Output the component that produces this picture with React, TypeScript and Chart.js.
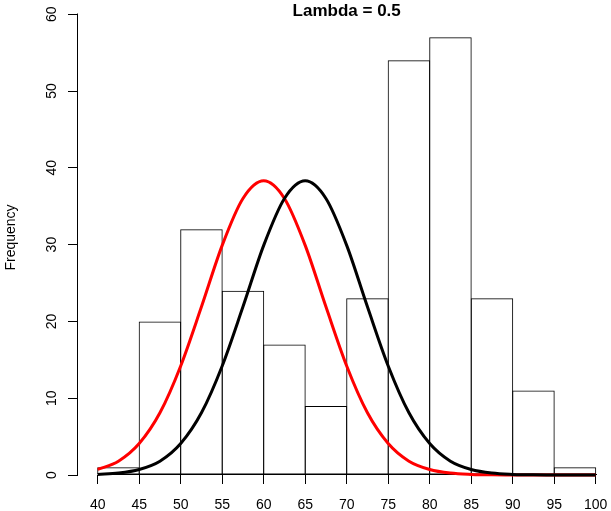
import React, { useEffect, useRef } from "react";
import { Chart, registerables } from "chart.js";

Chart.register(...registerables);

// Histogram bins (5 wide) and counts
const binCenters = [42.5, 47.5, 52.5, 57.5, 62.5, 67.5, 72.5, 77.5, 82.5, 87.5, 92.5, 97.5];
const binCounts = [1, 20, 32, 24, 17, 9, 23, 54, 57, 23, 11, 1];

// Density curves
const curveX = [40, 42.5, 45, 47.5, 50, 52.5, 55, 57.5, 60, 62.5, 65, 67.5, 70, 72.5, 75, 77.5, 80, 82.5, 85, 87.5, 90, 92.5, 95, 97.5, 100];
const redCurve = [0.72, 1.8, 4.1, 8.1, 14.2, 21.9, 29.9, 36.0, 38.3, 36.0, 29.9, 21.9, 14.2, 8.1, 4.1, 1.8, 0.72, 0.25, 0.08, 0.02, 0.01, 0, 0, 0, 0];
const blackCurve = [0.08, 0.25, 0.72, 1.8, 4.1, 8.1, 14.2, 21.9, 29.9, 36.0, 38.3, 36.0, 29.9, 21.9, 14.2, 8.1, 4.1, 1.8, 0.72, 0.25, 0.08, 0.02, 0.01, 0, 0];

const xTicks = [40, 45, 50, 55, 60, 65, 70, 75, 80, 85, 90, 95, 100];
const yTicks = [0, 10, 20, 30, 40, 50, 60];

const titleText = "Lambda = 0.5";
const yTitleText = "Frequency";

const FONT = "'Liberation Sans', Arial, Helvetica, sans-serif";

export default function App() {
  const ref = useRef<HTMLCanvasElement>(null);

  useEffect(() => {
    if (!ref.current) return;

    const rAxes = {
      id: "rAxes",
      beforeDatasetsDraw(chart: any) {
        const { ctx, scales } = chart;
        const x = scales.x;
        const y = scales.y;
        ctx.save();
        ctx.strokeStyle = "#000";
        ctx.lineWidth = 1;
        const yx = Math.round(y.right) - 0.5;
        ctx.beginPath();
        ctx.moveTo(yx, Math.round(y.getPixelForValue(yTicks[0])) + 0.5);
        ctx.lineTo(yx, Math.round(y.getPixelForValue(yTicks[yTicks.length - 1])) - 0.5);
        ctx.stroke();
        const xy = Math.round(y.getPixelForValue(0)) - 0.5;
        ctx.beginPath();
        ctx.moveTo(Math.round(x.getPixelForValue(xTicks[0])), xy);
        ctx.lineTo(Math.round(x.getPixelForValue(xTicks[xTicks.length - 1])) + 1, xy);
        ctx.stroke();
        ctx.restore();
      },
      afterDraw(chart: any) {
        const { ctx, scales } = chart;
        const x = scales.x;
        ctx.save();
        ctx.fillStyle = "#000";
        ctx.font = `bold 17px ${FONT}`;
        ctx.textAlign = "center";
        ctx.textBaseline = "middle";
        const mid = (xTicks[0] + xTicks[xTicks.length - 1]) / 2;
        ctx.fillText(titleText, x.getPixelForValue(mid), 11.5);
        ctx.restore();
      },
    };

    const chart = new Chart(ref.current, {
      type: "bar",
      data: {
        datasets: [
          {
            type: "line",
            label: "black",
            data: curveX.map((v, i) => ({ x: v, y: blackCurve[i] })),
            borderColor: "#000000",
            borderWidth: 3,
            pointRadius: 0,
            fill: false,
            cubicInterpolationMode: "monotone",
            clip: false,
            order: 1,
          } as any,
          {
            type: "line",
            label: "red",
            data: curveX.map((v, i) => ({ x: v, y: redCurve[i] })),
            borderColor: "#ff0000",
            borderWidth: 3,
            pointRadius: 0,
            fill: false,
            cubicInterpolationMode: "monotone",
            clip: false,
            order: 2,
          } as any,
          {
            type: "bar",
            label: "hist",
            data: binCenters.map((v, i) => ({ x: v, y: binCounts[i] })),
            backgroundColor: "rgba(0,0,0,0)",
            borderColor: "#000000",
            borderWidth: 1,
            borderSkipped: false,
            inflateAmount: 0,
            barPercentage: 42.5 / 41.5,
            categoryPercentage: 1,
            order: 3,
          } as any,
        ],
      },
      options: {
        animation: false,
        responsive: false,
        devicePixelRatio: 1,
        events: [],
        layout: { padding: { left: 0, top: 0, right: 6, bottom: 0 } },
        plugins: {
          legend: { display: false },
          tooltip: { enabled: false },
          title: { display: false },
        },
        scales: {
          x: {
            type: "linear",
            position: "bottom",
            offset: false,
            min: 37.627,
            max: 101.12,
            afterBuildTicks: (scale: any) => {
              scale.ticks = xTicks.map((v) => ({ value: v }));
            },
            afterFit: (scale: any) => {
              scale.height = 36;
              scale.paddingLeft = 0;
              scale.paddingRight = 0;
              scale.paddingTop = 0;
              scale.paddingBottom = 0;
            },
            border: { display: false },
            grid: {
              offset: false,
              drawOnChartArea: false,
              drawTicks: true,
              tickLength: 9,
              color: "#000",
              lineWidth: 1,
            },
            ticks: {
              autoSkip: false,
              maxRotation: 0,
              minRotation: 0,
              padding: 13,
              color: "#000",
              font: { family: FONT, size: 14 },
              callback: (v: any) => String(v),
            },
          },
          y: {
            type: "linear",
            position: "left",
            min: 0,
            max: 61.85,
            afterBuildTicks: (scale: any) => {
              scale.ticks = yTicks.map((v) => ({ value: v }));
            },
            afterFit: (scale: any) => {
              scale.width = 78;
              scale.paddingLeft = 0;
              scale.paddingRight = 0;
              scale.paddingTop = 0;
              scale.paddingBottom = 0;
            },
            border: { display: false },
            grid: {
              offset: false,
              drawOnChartArea: false,
              drawTicks: true,
              tickLength: 10,
              color: "#000",
              lineWidth: 1,
            },
            ticks: {
              autoSkip: false,
              minRotation: 90,
              maxRotation: 90,
              crossAlign: "center",
              padding: 8,
              color: "#000",
              font: { family: FONT, size: 14 },
              callback: (v: any) => String(v),
            },
            title: {
              display: true,
              text: yTitleText,
              color: "#000",
              font: { family: FONT, size: 14 },
              padding: { top: 3, bottom: 0 },
            },
          },
        },
      } as any,
      plugins: [rAxes],
    });

    return () => chart.destroy();
  }, []);

  return (
    <div style={{ position: "fixed", left: 0, top: 0, width: 611, height: 511, background: "#fff" }}>
      <canvas ref={ref} width={611} height={511} style={{ width: 611, height: 511, display: "block" }} />
    </div>
  );
}
